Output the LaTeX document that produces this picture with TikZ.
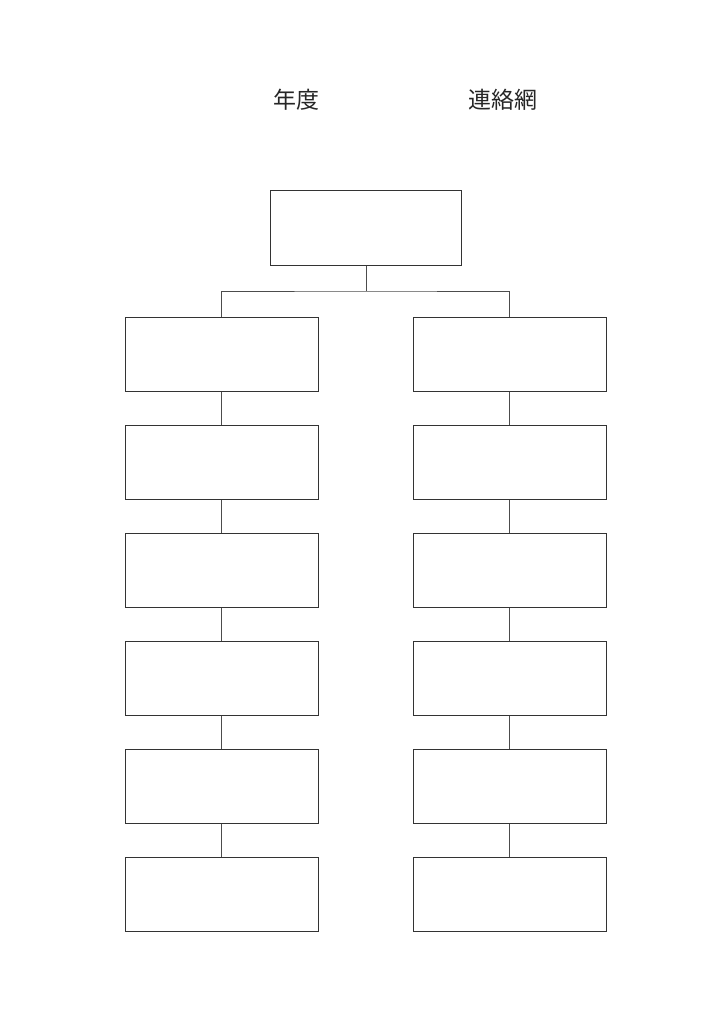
\documentclass[tikz,border=0pt]{standalone}
\usepackage{fontspec}
\newfontfamily\cjk{Noto Sans CJK JP}
\begin{document}
\begin{tikzpicture}[x=1pt,y=-1pt,
  box/.style={draw=black!80,line width=1pt,minimum width=193pt,minimum height=74pt,inner sep=0pt},
  topbox/.style={box,minimum width=191pt},
  link/.style={draw=black!70,line width=0.75pt},
  title/.style={font=\cjk\fontsize{23}{27}\selectfont,text=black!85,inner sep=0pt}]
\useasboundingbox (0,0) rectangle (724,1024);
\node[title] (t1) at (296,100) {年度};
\node[title] (t2) at (503,100) {連絡網};
\node[topbox] (top) at (366,228) {};
\foreach \i in {0,...,5}{
  \node[box] (L\i) at (221.5,{354+108*\i}) {};
  \node[box] (R\i) at (509.5,{354+108*\i}) {};
}
\coordinate (bar) at (366,291);
\draw[link] (top.south) -- (bar);
\draw[link] (L0.north) |- (bar) -| (R0.north);
\foreach \i [count=\j] in {0,...,4}{
  \draw[link] (L\i.south) -- (L\j.north);
  \draw[link] (R\i.south) -- (R\j.north);
}
\end{tikzpicture}
\end{document}
